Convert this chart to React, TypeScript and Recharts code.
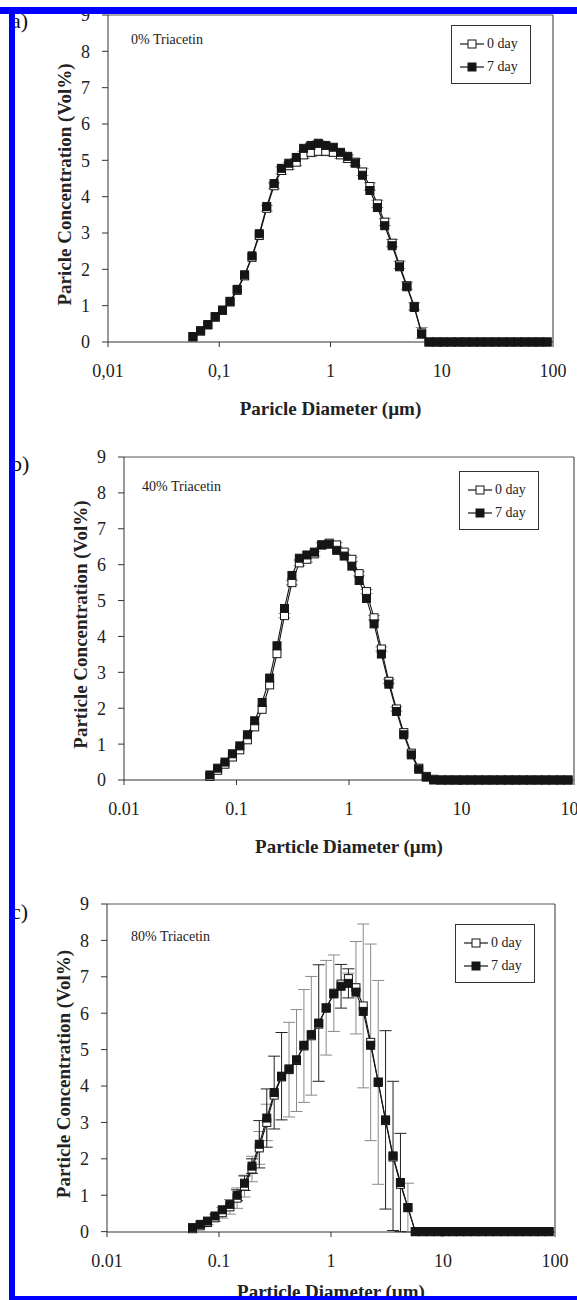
import React from 'react';
import { ComposedChart, Line, XAxis, YAxis, ErrorBar, ReferenceLine, Legend } from 'recharts';

// particle size bins (µm)
const diameters = [0.058, 0.068, 0.079, 0.092, 0.107, 0.125, 0.145, 0.169, 0.197, 0.229, 0.267, 0.311, 0.362, 0.422, 0.492, 0.573, 0.667, 0.777, 0.906, 1.06, 1.23, 1.43, 1.67, 1.94, 2.26, 2.64, 3.07, 3.58, 4.17, 4.86, 5.66, 6.60, 7.68, 8.95, 10.4, 12.2, 14.2, 16.5, 19.2, 22.4, 26.1, 30.4, 35.4, 41.2, 48.0, 55.9, 65.2, 75.9, 88.5];

// a) 0% triacetin
const tri0Day0 = [0.14, 0.30, 0.47, 0.68, 0.87, 1.10, 1.42, 1.82, 2.33, 2.93, 3.68, 4.30, 4.72, 4.85, 4.95, 5.15, 5.22, 5.25, 5.25, 5.22, 5.15, 5.05, 4.95, 4.68, 4.28, 3.80, 3.30, 2.72, 2.12, 1.55, 0.98, 0.25, 0, 0, 0, 0, 0, 0, 0, 0, 0, 0, 0, 0, 0, 0, 0, 0, 0];
const tri0Day7 = [0.15, 0.31, 0.48, 0.70, 0.88, 1.12, 1.45, 1.85, 2.37, 2.98, 3.73, 4.36, 4.78, 4.92, 5.08, 5.33, 5.41, 5.47, 5.41, 5.36, 5.22, 5.11, 4.92, 4.59, 4.17, 3.70, 3.20, 2.65, 2.07, 1.52, 0.95, 0.22, 0, 0, 0, 0, 0, 0, 0, 0, 0, 0, 0, 0, 0, 0, 0, 0, 0];
const tri0Err0 = [0, 0, 0, 0, 0, 0, 0, 0, 0, 0, 0.08, 0.08, 0.1, 0.1, 0.1, 0.1, 0.12, 0.12, 0.12, 0.1, 0.1, 0.1, 0.1, 0.1, 0.1, 0.1, 0.1, 0.1, 0.1, 0.1, 0.1, 0.15, 0, 0, 0, 0, 0, 0, 0, 0, 0, 0, 0, 0, 0, 0, 0, 0, 0];
const tri0Err7 = [0, 0, 0, 0, 0, 0, 0, 0, 0, 0, 0, 0, 0, 0, 0, 0, 0.06, 0.06, 0.06, 0, 0, 0, 0, 0, 0, 0, 0, 0, 0, 0, 0, 0, 0, 0, 0, 0, 0, 0, 0, 0, 0, 0, 0, 0, 0, 0, 0, 0, 0];

// b) 40% triacetin
const tri40Day0 = [0.10, 0.27, 0.44, 0.64, 0.84, 1.12, 1.48, 1.97, 2.65, 3.52, 4.58, 5.50, 6.05, 6.15, 6.30, 6.55, 6.60, 6.55, 6.35, 6.15, 5.75, 5.25, 4.52, 3.65, 2.75, 1.98, 1.32, 0.75, 0.33, 0.10, 0.02, 0, 0, 0, 0, 0, 0, 0, 0, 0, 0, 0, 0, 0, 0, 0, 0, 0, 0];
const tri40Day7 = [0.14, 0.33, 0.50, 0.73, 0.95, 1.26, 1.65, 2.16, 2.84, 3.74, 4.78, 5.70, 6.18, 6.27, 6.35, 6.55, 6.57, 6.40, 6.24, 5.96, 5.56, 5.06, 4.35, 3.51, 2.67, 1.91, 1.26, 0.70, 0.30, 0.08, 0, 0, 0, 0, 0, 0, 0, 0, 0, 0, 0, 0, 0, 0, 0, 0, 0, 0, 0];
const tri40Err0 = [0, 0, 0, 0, 0, 0, 0, 0, 0, 0, 0.06, 0.06, 0.08, 0.08, 0.06, 0.06, 0.06, 0.06, 0.06, 0.06, 0.06, 0.06, 0.06, 0.06, 0.06, 0.06, 0, 0, 0, 0, 0, 0, 0, 0, 0, 0, 0, 0, 0, 0, 0, 0, 0, 0, 0, 0, 0, 0, 0];
const tri40Err7 = [0, 0, 0, 0, 0, 0, 0, 0, 0, 0, 0, 0, 0, 0, 0, 0, 0, 0, 0, 0, 0, 0, 0, 0, 0, 0, 0, 0, 0, 0, 0, 0, 0, 0, 0, 0, 0, 0, 0, 0, 0, 0, 0, 0, 0, 0, 0, 0, 0];

// c) 80% triacetin
const tri80Day0 = [0.08, 0.16, 0.25, 0.38, 0.52, 0.68, 0.92, 1.25, 1.72, 2.30, 3.00, 3.75, 4.25, 4.45, 4.70, 5.10, 5.38, 5.70, 6.15, 6.55, 6.80, 6.95, 6.70, 6.20, 5.20, 4.10, 3.05, 2.05, 1.30, 0.66, 0, 0, 0, 0, 0, 0, 0, 0, 0, 0, 0, 0, 0, 0, 0, 0, 0, 0, 0];
const tri80Day7 = [0.11, 0.20, 0.29, 0.43, 0.60, 0.75, 1.00, 1.33, 1.80, 2.40, 3.12, 3.82, 4.27, 4.47, 4.72, 5.12, 5.41, 5.73, 6.14, 6.53, 6.74, 6.82, 6.58, 6.05, 5.12, 4.11, 3.07, 2.08, 1.35, 0.66, 0, 0, 0, 0, 0, 0, 0, 0, 0, 0, 0, 0, 0, 0, 0, 0, 0, 0, 0];
const tri80Err0 = [0, 0.03, 0.06, 0.1, 0.15, 0.2, 0.28, 0.3, 0.35, 0.45, 0.5, 0, 0, 1.3, 1.4, 1.55, 1.63, 0, 1.3, 1.05, 0, 0.15, 1.27, 2.25, 2.7, 2.8, 0, 0, 0, 0.67, 0, 0, 0, 0, 0, 0, 0, 0, 0, 0, 0, 0, 0, 0, 0, 0, 0, 0, 0];
const tri80Err7 = [0, 0, 0, 0, 0, 0, 0.15, 0.2, 0.2, 0.65, 0.8, 1.0, 1.2, 0, 0, 0, 0, 1.6, 0, 0, 0.6, 0.4, 0, 0, 0, 0, 2.45, 2.05, 1.35, 0, 0, 0, 0, 0, 0, 0, 0, 0, 0, 0, 0, 0, 0, 0, 0, 0, 0, 0, 0];

const xTicks = [0.01, 0.1, 1, 10, 100];
const yTicks = [0, 1, 2, 3, 4, 5, 6, 7, 8, 9];

const SERIF = '"Liberation Serif", "Times New Roman", serif';
const BLUE = '#0000ff';
const INK = '#151515';

function buildRows(day0: number[], day7: number[], err0: number[], err7: number[]) {
  return diameters.map((d, i) => ({ d, day0: day0[i], day7: day7[i], err0: err0[i], err7: err7[i] }));
}

const squareDot = (fill: string) => (p: any) => {
  if (p.cx == null || p.cy == null) return <g key={`n${p.index}`} />;
  return <rect key={`s${p.index}`} x={p.cx - 4} y={p.cy - 4} width={8} height={8} fill={fill} stroke={INK} strokeWidth={1} />;
};

function YTitle(props: any) {
  const { tx, ty, text } = props;
  return (
    <text x={tx} y={ty} transform={`rotate(-90, ${tx}, ${ty})`} textAnchor="middle" dominantBaseline="central"
      style={{ fontFamily: SERIF, fontSize: 19, fontWeight: 'bold', fill: '#222' }}>{text}</text>
  );
}

function XTitle(props: any) {
  const { tx, ty, text } = props;
  return (
    <text x={tx} y={ty} textAnchor="middle" dominantBaseline="central"
      style={{ fontFamily: SERIF, fontSize: 19, fontWeight: 'bold', fill: '#222' }}>{text}</text>
  );
}

function LegendBox({ payload }: any) {
  const items = payload || [];
  return (
    <div style={{ border: '1px solid #333', background: '#fff', padding: '6px 0 5px 8px', fontFamily: SERIF, fontSize: 14, color: '#222' }}>
      {items.map((it: any, i: number) => (
        <div key={it.value} style={{ display: 'flex', alignItems: 'center', height: 23 }}>
          <svg width={24} height={12} style={{ marginRight: 3 }}>
            <line x1={0} y1={6} x2={24} y2={6} stroke={INK} strokeWidth={1.2} />
            <rect x={8} y={2} width={8} height={8} fill={i === 0 ? '#fff' : INK} stroke={INK} />
          </svg>
          <span>{it.value}</span>
        </div>
      ))}
    </div>
  );
}

interface PanelProps {
  rows: any[];
  top: number;
  height: number;
  plotLeft: number;
  plotRight: number;
  plotTop: number;
  plotBottom: number;
  yTitle: string;
  xTitle: string;
  xTitleDy: number;
  comma?: boolean;
  legendLeft: number;
  legendTop: number;
  note: string;
  noteLeft: number;
  noteTop: number;
  letter: string;
  letterTop: number;
}

function Panel(p: PanelProps) {
  const yAxisW = 50;
  const xAxisH = p.height - p.plotBottom;
  const fmt = (v: number) => (p.comma ? String(v).replace('.', ',') : String(v));
  const plotMidY = (p.plotTop + p.plotBottom) / 2;
  const plotMidX = (p.plotLeft + p.plotRight) / 2;
  return (
    <div style={{ position: 'absolute', left: 0, top: p.top, width: 577, height: p.height }}>
      <ComposedChart width={577} height={p.height} data={p.rows}
        margin={{ top: p.plotTop, right: 577 - p.plotRight, left: p.plotLeft - yAxisW, bottom: 0 }}>
        <XAxis dataKey="d" type="number" scale="log" domain={[0.01, 100]} ticks={xTicks} interval={0}
          allowDataOverflow tickFormatter={fmt} height={xAxisH} tickSize={5} tickMargin={17}
          stroke="#333" tick={{ fontFamily: SERIF, fontSize: 18, fill: '#222' }}
          label={<XTitle tx={plotMidX} ty={p.plotBottom + p.xTitleDy} text={p.xTitle} />} />
        <YAxis type="number" domain={[0, 9]} ticks={yTicks} interval={0} width={yAxisW}
          tickSize={6} tickMargin={12} stroke="#333" tick={{ fontFamily: SERIF, fontSize: 18, fill: '#222' }}
          label={<YTitle tx={p.plotLeft - 44} ty={plotMidY + 6} text={p.yTitle} />} />
        <ReferenceLine y={9} stroke="#555" strokeWidth={1.2} />
        <ReferenceLine x={100} stroke="#555" strokeWidth={1.2} />
        <Legend layout="horizontal" verticalAlign="middle" align="center" width={80}
          wrapperStyle={{ left: p.legendLeft, top: p.legendTop, width: 80 }} content={<LegendBox />} />
        <Line dataKey="day0" name="0 day" type="linear" stroke={INK} strokeWidth={1.1}
          dot={squareDot('#fff')} activeDot={false} isAnimationActive={false}>
          <ErrorBar dataKey="err0" direction="y" width={6} stroke="#8a8a8a" strokeWidth={1} isAnimationActive={false} />
        </Line>
        <Line dataKey="day7" name="7 day" type="linear" stroke={INK} strokeWidth={1.1}
          dot={squareDot(INK)} activeDot={false} isAnimationActive={false}>
          <ErrorBar dataKey="err7" direction="y" width={6} stroke="#222" strokeWidth={1} isAnimationActive={false} />
        </Line>
      </ComposedChart>
      <div style={{ position: 'absolute', left: p.noteLeft, top: p.noteTop, fontFamily: SERIF, fontSize: 14, color: '#222', whiteSpace: 'nowrap' }}>
        {p.note}
      </div>
      <div style={{ position: 'absolute', left: 11, top: p.letterTop, fontFamily: SERIF, fontSize: 22, color: '#111', lineHeight: 1 }}>
        {p.letter}
      </div>
    </div>
  );
}

export default function App() {
  return (
    <div style={{ position: 'absolute', left: 0, top: 0, width: 577, height: 1300, background: '#fff', overflow: 'hidden' }}>
      <Panel rows={buildRows(tri0Day0, tri0Day7, tri0Err0, tri0Err7)} top={0} height={440}
        plotLeft={108} plotRight={553} plotTop={15} plotBottom={342}
        yTitle="Paricle Concentration (Vol%)" xTitle="Paricle Diameter (µm)" xTitleDy={66} comma
        legendLeft={451} legendTop={25} note="0% Triacetin" noteLeft={131} noteTop={32}
        letter="a)" letterTop={10} />
      <Panel rows={buildRows(tri40Day0, tri40Day7, tri40Err0, tri40Err7)} top={440} height={445}
        plotLeft={124} plotRight={574} plotTop={17} plotBottom={340}
        yTitle="Particle Concentration (Vol%)" xTitle="Particle Diameter (µm)" xTitleDy={66}
        legendLeft={459} legendTop={31} note="40% Triacetin" noteLeft={142} noteTop={39}
        letter="b)" letterTop={13} />
      <Panel rows={buildRows(tri80Day0, tri80Day7, tri80Err0, tri80Err7)} top={885} height={415}
        plotLeft={107} plotRight={555} plotTop={19} plotBottom={347}
        yTitle="Particle Concentration (Vol%)" xTitle="Particle Diameter (µm)" xTitleDy={59}
        legendLeft={455} legendTop={39} note="80% Triacetin" noteLeft={131} noteTop={44}
        letter="c)" letterTop={16} />
      <div style={{ position: 'absolute', left: 0, top: 7, width: 577, height: 7, background: BLUE }} />
      <div style={{ position: 'absolute', left: 9, top: 7, width: 6, height: 1293, background: BLUE }} />
      <div style={{ position: 'absolute', left: 9, top: 1296, width: 568, height: 4, background: BLUE }} />
    </div>
  );
}
